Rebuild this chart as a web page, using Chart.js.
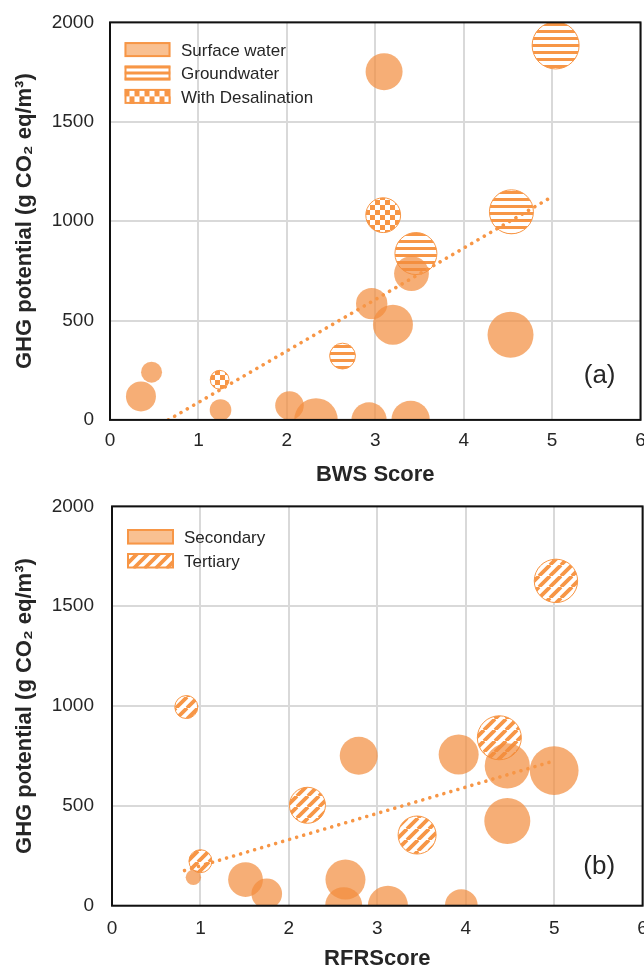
<!DOCTYPE html>
<html>
<head>
<meta charset="utf-8">
<script src="https://cdn.jsdelivr.net/npm/chart.js@4.4.1/dist/chart.umd.min.js"></script>
<style>
html,body{margin:0;padding:0;background:#fff;overflow:hidden;width:644px;height:969px;}
.wrap{position:absolute;left:0;}
#w1{top:-5.4px;width:665px;height:495px;}
#w2{top:477.3px;width:667px;height:497px;}
canvas{display:block;}
</style>
</head>
<body>
<div class="wrap" id="w1"><canvas id="c1" width="665" height="495"></canvas></div>
<div class="wrap" id="w2"><canvas id="c2" width="667" height="497"></canvas></div>
<script>
// ---------- tick labels ----------
const xTickValues = [0, 1, 2, 3, 4, 5, 6];
const yTickValues = [0, 500, 1000, 1500, 2000];

// ---------- panel (a): BWS Score ----------
const surfaceX    = [0.47, 0.35, 1.25, 2.03, 2.33, 2.93, 3.40, 2.96, 3.20, 3.41, 4.53, 3.10];
const surfaceY    = [240, 118, 50, 72, 0, 0, 0, 585, 479, 736, 428, 1752];
const surfaceSize = [10.5, 15, 10.8, 14.3, 21.7, 17.6, 19.2, 15.7, 20, 17.4, 23, 18.5];

const groundX    = [2.63, 3.46, 4.54, 5.04];
const groundY    = [321, 837, 1047, 1884];
const groundSize = [12.9, 21, 22, 23.5];

const desalX    = [3.09, 1.24];
const desalY    = [1030, 202];
const desalSize = [17.4, 9.4];

const trendAX = [0.66, 5.0];
const trendAY = [0, 1123];

// ---------- panel (b): RFRScore ----------
const secondaryX    = [0.92, 1.51, 1.75, 2.64, 2.62, 3.12, 3.95, 2.79, 3.92, 4.47, 5.00, 4.47];
const secondaryY    = [142, 131, 60, 131, 0, 0, 0, 751, 757, 700, 677, 424];
const secondarySize = [7.7, 17.4, 15.3, 20, 18.5, 20, 16.4, 19, 20, 22.6, 24.4, 23];

const tertiaryX    = [0.84, 1.00, 2.21, 3.45, 4.38, 5.02];
const tertiaryY    = [995, 223, 503, 354, 841, 1627];
const tertiarySize = [11.5, 11.5, 18, 19, 22, 21.7];

const trendBX = [0.82, 4.96];
const trendBY = [176, 720];

// ---------- styles ----------
const FONT = "'Liberation Sans', Arial, Helvetica, sans-serif";
const ORANGE = 'rgb(247,150,70)';
const SOLID = 'rgba(242,140,60,0.7)';
const LIGHT = 'rgb(249,192,145)';
const TEXT = '#262626';

Chart.defaults.font.family = FONT;
Chart.defaults.color = TEXT;

function makePattern(kind) {
  const c = document.createElement('canvas');
  const g = c.getContext('2d');
  if (kind === 'h') {
    c.width = 8; c.height = 7;
    g.fillStyle = '#fff'; g.fillRect(0, 0, 8, 7);
    g.fillStyle = ORANGE; g.fillRect(0, 0, 8, 3);
  } else if (kind === 'check') {
    c.width = 10; c.height = 10;
    g.fillStyle = '#fff'; g.fillRect(0, 0, 10, 10);
    g.fillStyle = ORANGE; g.fillRect(0, 0, 5, 5); g.fillRect(5, 5, 5, 5);
  } else {
    const s = 11;
    c.width = s; c.height = s;
    g.fillStyle = '#fff'; g.fillRect(0, 0, s, s);
    g.strokeStyle = ORANGE; g.lineWidth = 3.8;
    g.beginPath();
    for (let k = -1; k <= 1; k++) { g.moveTo(k * s, s); g.lineTo(k * s + s, 0); }
    g.stroke();
  }
  return g.createPattern(c, 'repeat');
}

function pts(xs, ys, rs) {
  return xs.map((x, i) => rs ? ({x, y: ys[i], r: rs[i]}) : ({x, y: ys[i]}));
}

function drawSwatch(ctx, kind, x, y, w, h) {
  ctx.save();
  ctx.beginPath(); ctx.rect(x, y, w, h); ctx.clip();
  if (kind === 'solid') {
    ctx.fillStyle = LIGHT; ctx.fillRect(x, y, w, h);
  } else if (kind === 'h') {
    ctx.fillStyle = '#fff'; ctx.fillRect(x, y, w, h);
    ctx.fillStyle = ORANGE;
    const b = h / 5;
    for (let i = 0; i < 5; i += 2) ctx.fillRect(x, y + i * b, w, b);
  } else if (kind === 'check') {
    ctx.fillStyle = '#fff'; ctx.fillRect(x, y, w, h);
    ctx.fillStyle = ORANGE;
    const cw = 5, ch = h / 2;
    for (let r = 0; r < 2; r++)
      for (let c = 0; c * cw < w; c++)
        if ((r + c) % 2 === 0) ctx.fillRect(x + c * cw, y + r * ch, cw, ch);
  } else if (kind === 'diag') {
    ctx.fillStyle = '#fff'; ctx.fillRect(x, y, w, h);
    ctx.strokeStyle = ORANGE; ctx.lineWidth = 3.8;
    ctx.beginPath();
    for (let k = -h; k < w + h; k += 11) { ctx.moveTo(x + k, y + h); ctx.lineTo(x + k + h, y); }
    ctx.stroke();
  }
  ctx.restore();
  ctx.strokeStyle = ORANGE; ctx.lineWidth = 2;
  ctx.strokeRect(x + 1, y + 1, w - 2, h - 2);
}

const framePlugin = {
  id: 'frameAndLegend',
  afterDatasetsDraw(chart, args, o) {
    const {ctx, chartArea: a} = chart;
    ctx.save();
    ctx.strokeStyle = '#111'; ctx.lineWidth = 2;
    ctx.strokeRect(a.left, a.top, a.right - a.left, a.bottom - a.top);
    o.items.forEach((it, i) => {
      const x = a.left + o.dx, y = a.top + o.dy + i * o.gap;
      drawSwatch(ctx, it.kind, x, y, o.w, o.h);
      ctx.fillStyle = TEXT;
      ctx.font = '17px ' + FONT;
      ctx.textAlign = 'left'; ctx.textBaseline = 'alphabetic';
      ctx.fillText(it.text, a.left + o.tx, y + o.h / 2 + 6.3);
    });
    ctx.font = '26px ' + FONT;
    ctx.textAlign = 'right'; ctx.textBaseline = 'alphabetic';
    ctx.fillStyle = TEXT;
    ctx.fillText(o.letter, a.right - o.letterDx, a.bottom - o.letterDy);
    ctx.restore();
  }
};

function makeChart(id, cfg) {
  return new Chart(document.getElementById(id), {
    type: 'bubble',
    data: {datasets: cfg.datasets},
    options: {
      responsive: false,
      animation: false,
      events: [],
      layout: {padding: 0},
      plugins: {
        legend: {display: false},
        tooltip: {enabled: false},
        frameAndLegend: cfg.legend
      },
      scales: {
        x: {
          type: 'linear', min: 0, max: 6,
          afterBuildTicks: s => { s.ticks = xTickValues.map(v => ({value: v})); },
          afterFit: s => { s.height = cfg.xHeight; },
          ticks: {padding: cfg.xTickPad, color: TEXT, font: {size: 19}, callback: v => String(v)},
          grid: {color: '#d9d9d9', lineWidth: 2, drawTicks: false},
          border: {display: false},
          title: {display: true, text: cfg.xTitle, color: TEXT,
                  font: {size: 22, weight: 'bold'}, padding: {top: 0, bottom: 2}}
        },
        y: {
          type: 'linear', min: 0, max: 2000,
          afterBuildTicks: s => { s.ticks = yTickValues.map(v => ({value: v})); },
          afterFit: s => { s.width = cfg.yWidth; },
          ticks: {padding: cfg.yTickPad, color: TEXT, font: {size: 19}, callback: v => String(v)},
          grid: {color: '#d9d9d9', lineWidth: 2, drawTicks: false},
          border: {display: false},
          title: {display: true, text: 'GHG potential (g CO\u2082 eq/m\u00B3)', color: TEXT,
                  font: {size: 22, weight: 'bold'}, padding: {top: 12, bottom: 0}}
        }
      }
    },
    plugins: [framePlugin]
  });
}

function trend(xs, ys) {
  return {type: 'line', data: pts(xs, ys), borderColor: ORANGE, borderWidth: 3.6,
          borderDash: [0.01, 7.3], borderCapStyle: 'round', pointRadius: 0, fill: false,
          clip: 0, order: 0};
}

makeChart('c1', {
  xHeight: 70.1, yWidth: 110, xTickPad: 9, yTickPad: 16,
  xTitle: 'BWS Score',
  datasets: [
    trend(trendAX, trendAY),
    {label: 'Surface water', data: pts(surfaceX, surfaceY, surfaceSize), backgroundColor: SOLID, borderWidth: 0, clip: 0, order: 1},
    {label: 'Groundwater', data: pts(groundX, groundY, groundSize), backgroundColor: makePattern('h'), borderColor: ORANGE, borderWidth: 1, clip: 0, order: 2},
    {label: 'With Desalination', data: pts(desalX, desalY, desalSize), backgroundColor: makePattern('check'), borderColor: ORANGE, borderWidth: 1, clip: 0, order: 3}
  ],
  legend: {dx: 14.5, dy: 19.7, gap: 23.4, w: 46, h: 15, tx: 71,
           items: [{kind: 'solid', text: 'Surface water'}, {kind: 'h', text: 'Groundwater'}, {kind: 'check', text: 'With Desalination'}],
           letter: '(a)', letterDx: 25, letterDy: 36.7}
});

makeChart('c2', {
  xHeight: 68.3, yWidth: 112, xTickPad: 12, yTickPad: 18,
  xTitle: 'RFRScore',
  datasets: [
    trend(trendBX, trendBY),
    {label: 'Secondary', data: pts(secondaryX, secondaryY, secondarySize), backgroundColor: SOLID, borderWidth: 0, clip: 0, order: 1},
    {label: 'Tertiary', data: pts(tertiaryX, tertiaryY, tertiarySize), backgroundColor: makePattern('diag'), borderColor: ORANGE, borderWidth: 1, clip: 0, order: 2}
  ],
  legend: {dx: 15, dy: 22.6, gap: 24, w: 47, h: 15.5, tx: 72,
           items: [{kind: 'solid', text: 'Secondary'}, {kind: 'diag', text: 'Tertiary'}],
           letter: '(b)', letterDx: 27.5, letterDy: 31.7}
});
</script>
</body>
</html>
